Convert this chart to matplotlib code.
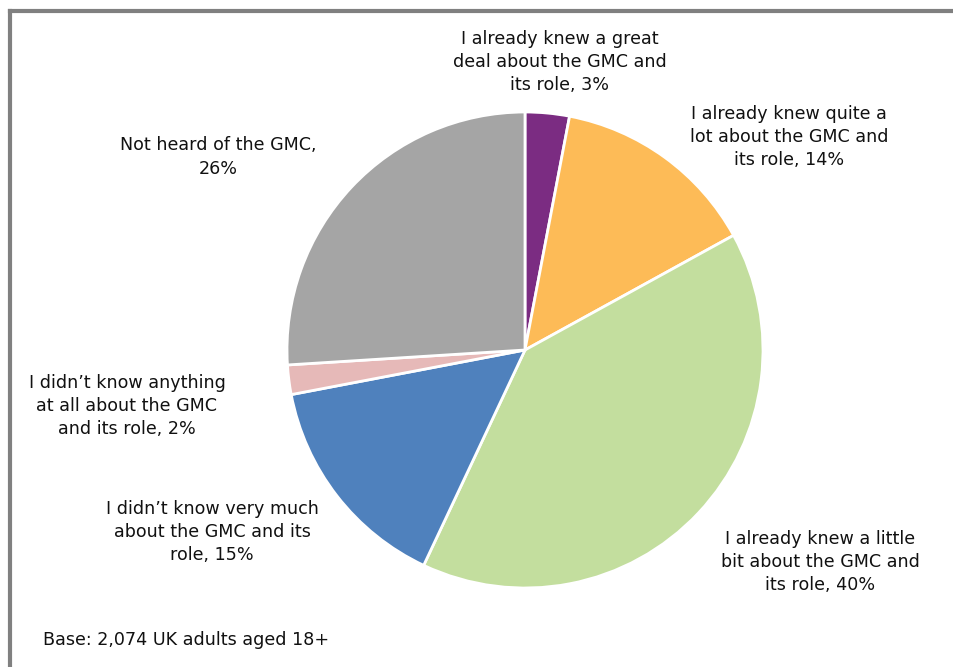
import matplotlib.pyplot as plt
from matplotlib.lines import Line2D

labels = [
    "I already knew a great\ndeal about the GMC and\nits role, 3%",
    "I already knew quite a\nlot about the GMC and\nits role, 14%",
    "I already knew a little\nbit about the GMC and\nits role, 40%",
    "I didn\u2019t know very much\nabout the GMC and its\nrole, 15%",
    "I didn\u2019t know anything\nat all about the GMC\nand its role, 2%",
    "Not heard of the GMC,\n26%",
]
values = [3, 14, 40, 15, 2, 26]
colors = ["#7B2C82", "#FDBB57", "#C3DE9E", "#4F81BD", "#E6B9B8", "#A5A5A5"]

# label centres in pixel coords (from top-left)
label_pos = [(560, 62), (789, 137), (820, 562), (212, 532), (127, 406), (218, 157)]

W, H = 954, 667
fig = plt.figure(figsize=(W / 100, H / 100), dpi=100)
ax = fig.add_axes([0, 0, 1, 1])
ax.set_xlim(0, W)
ax.set_ylim(0, H)
ax.set_aspect("equal")
ax.axis("off")

ax.pie(values, colors=colors, startangle=90, counterclock=False,
       center=(525, H - 350), radius=238,
       wedgeprops=dict(edgecolor="white", linewidth=2))
ax.set_xlim(0, W)
ax.set_ylim(0, H)

for txt, (x, y) in zip(labels, label_pos):
    ax.text(x, H - y, txt, ha="center", va="center", multialignment="center",
            fontsize=12.6, color="#111111", linespacing=1.37)

ax.text(43, H - 640, "Base: 2,074 UK adults aged 18+", ha="left", va="center",
        fontsize=12.6, color="#111111")

# frame on left and top
fig.add_artist(Line2D([10, 10], [0, H - 11], transform=None, color="#808080", lw=3))
fig.add_artist(Line2D([10, W], [H - 11, H - 11], transform=None, color="#808080", lw=3))

fig.savefig("out.png", dpi=100)
